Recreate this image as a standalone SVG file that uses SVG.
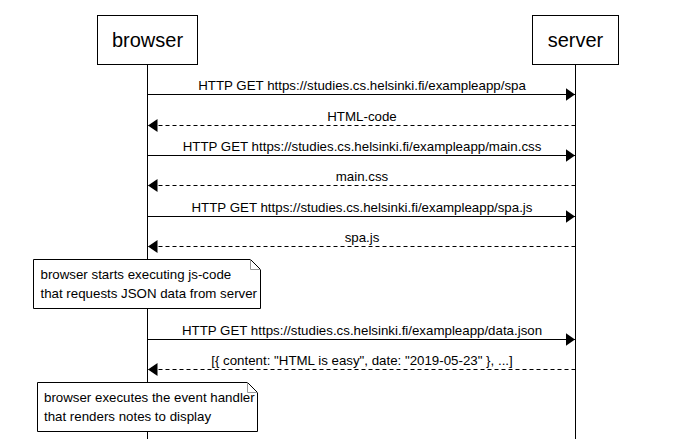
<svg xmlns="http://www.w3.org/2000/svg" width="689" height="439" viewBox="0 0 689 439">
<style>
.bg{fill:#fff}
.actor{fill:#fff;stroke:#000;stroke-width:1}
.atext{font-family:"Liberation Sans",Arial,sans-serif;font-size:20px;fill:#000;text-anchor:middle}
.life{stroke:#000;stroke-width:1;fill:none}
.msg{stroke:#000;stroke-width:1;fill:none}
.dash{stroke-dasharray:4,3}
.mtext{font-family:"Liberation Sans",Arial,sans-serif;font-size:13.3px;fill:#000;text-anchor:middle}
.note{fill:#fff;stroke:#000;stroke-width:1}
.fold{fill:none;stroke:#999;stroke-width:1}
.ntext{font-family:"Liberation Sans",Arial,sans-serif;font-size:13.3px;fill:#000}
</style>
<defs>
<marker id="ah" markerUnits="userSpaceOnUse" markerWidth="10" markerHeight="14" refX="9.5" refY="6.5" orient="auto">
<path d="M0,0 L9.5,6.5 L0,13 z" fill="#000"/>
</marker>
</defs>
<rect class="bg" x="0" y="0" width="689" height="439"/>
<g id="lifelines">
<line class="life" x1="147.5" y1="64" x2="147.5" y2="439"/>
<line class="life" x1="575.5" y1="64" x2="575.5" y2="439"/>
</g>
<g id="browser">
<rect class="actor" x="97.5" y="15.5" width="100" height="49"/>
<text class="atext" x="147.5" y="47">browser</text>
</g>
<g id="server">
<rect class="actor" x="532.5" y="15.5" width="86" height="49"/>
<text class="atext" x="575.5" y="47">server</text>
</g>
<g id="connectors">
<line class="msg" x1="147.5" y1="94.5" x2="575" y2="94.5" marker-end="url(#ah)"/>
<text class="mtext" x="362" y="89.5">HTTP GET https://studies.cs.helsinki.fi/exampleapp/spa</text>
<line class="msg dash" x1="575.5" y1="125.5" x2="148" y2="125.5" marker-end="url(#ah)"/>
<text class="mtext" x="362" y="120.5">HTML-code</text>
<line class="msg" x1="147.5" y1="155.5" x2="575" y2="155.5" marker-end="url(#ah)"/>
<text class="mtext" x="362" y="150.5">HTTP GET https://studies.cs.helsinki.fi/exampleapp/main.css</text>
<line class="msg dash" x1="575.5" y1="185.5" x2="148" y2="185.5" marker-end="url(#ah)"/>
<text class="mtext" x="362" y="180.5">main.css</text>
<line class="msg" x1="147.5" y1="216.5" x2="575" y2="216.5" marker-end="url(#ah)"/>
<text class="mtext" x="362" y="211.5">HTTP GET https://studies.cs.helsinki.fi/exampleapp/spa.js</text>
<line class="msg dash" x1="575.5" y1="246.5" x2="148" y2="246.5" marker-end="url(#ah)"/>
<text class="mtext" x="362" y="241.5">spa.js</text>
<line class="msg" x1="147.5" y1="339.5" x2="575" y2="339.5" marker-end="url(#ah)"/>
<text class="mtext" x="362" y="334.5">HTTP GET https://studies.cs.helsinki.fi/exampleapp/data.json</text>
<line class="msg dash" x1="575.5" y1="369.5" x2="148" y2="369.5" marker-end="url(#ah)"/>
<text class="mtext" x="362" y="364.5">[{ content: "HTML is easy", date: "2019-05-23" }, ...]</text>
</g>
<g id="note1">
<path class="note" d="M33.5,259.5 H250.5 L260.5,269.5 V308.5 H33.5 Z"/>
<path class="fold" d="M250.5,259.5 V269.5 H260.5"/>
<text class="ntext" x="40.5" y="279">browser starts executing js-code</text>
<text class="ntext" x="40.5" y="298">that requests JSON data from server</text>
</g>
<g id="note2">
<path class="note" d="M37.5,382.5 H247.5 L257.5,392.5 V431.5 H37.5 Z"/>
<path class="fold" d="M247.5,382.5 V392.5 H257.5"/>
<text class="ntext" x="44" y="402">browser executes the event handler</text>
<text class="ntext" x="44" y="421">that renders notes to display</text>
</g>
</svg>
